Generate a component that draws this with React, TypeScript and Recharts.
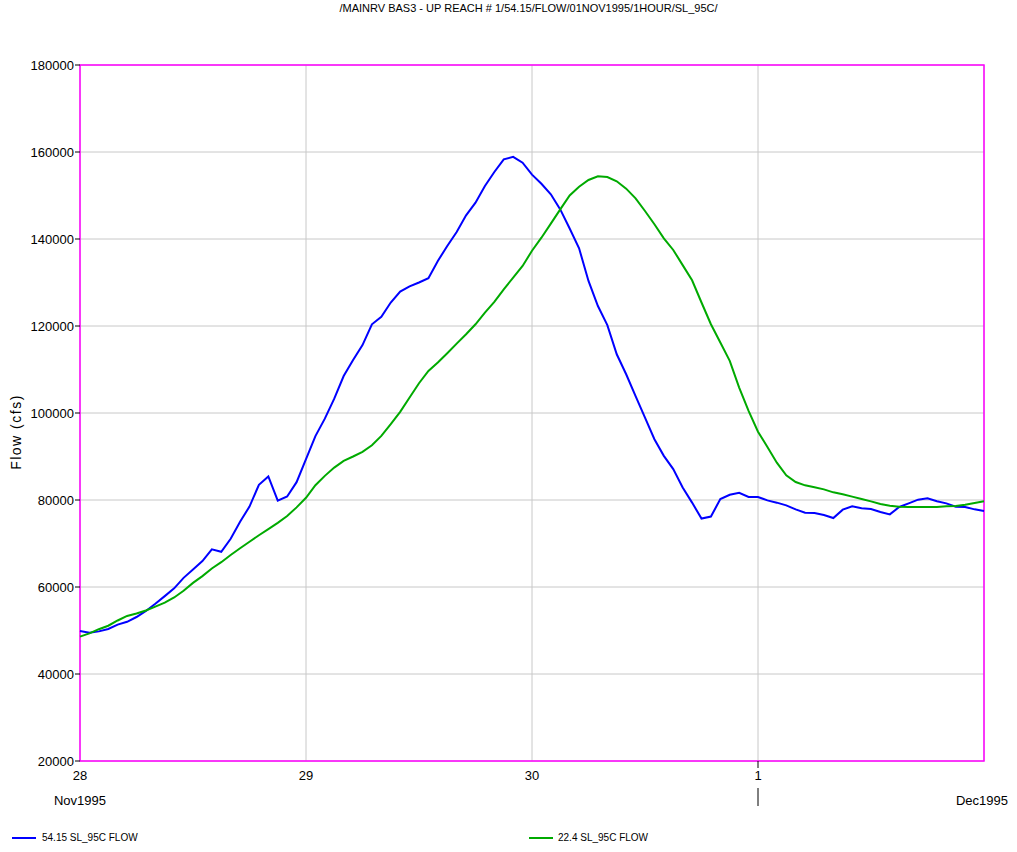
import React from 'react';
import { LineChart, Line, XAxis, YAxis, CartesianGrid, ReferenceArea } from 'recharts';

const TITLE = '/MAINRV BAS3 - UP REACH # 1/54.15/FLOW/01NOV1995/1HOUR/SL_95C/';
const SERIES_A_NAME = '54.15 SL_95C FLOW';
const SERIES_B_NAME = '22.4 SL_95C FLOW';
const Y_LABEL = 'Flow (cfs)';

// hourly flow values (cfs), starting 28Nov1995 00:00, ending 01Dec1995 24:00
const flowA = [
  49900, 49500, 49800, 50350, 51350, 52000, 53100, 54500, 56150, 57900, 59700, 62100,
  64000, 65950, 68650, 68100, 71100, 75000, 78500, 83500, 85400, 79850, 80800, 84100,
  89400, 94700, 98700, 103300, 108500, 112200, 115600, 120400, 122100, 125400, 127900, 129100,
  130000, 131000, 134950, 138400, 141600, 145450, 148350, 152200, 155400, 158300, 158900, 157550,
  154800, 152700, 150270, 146800, 142400, 137860, 130350, 124600, 120200, 113500, 108900, 103900,
  98950, 93970, 90150, 87100, 82860, 79400, 75740, 76200, 80200, 81200, 81650, 80700,
  80700, 79920, 79390, 78770, 77850, 77090, 77000, 76550, 75860, 77780, 78540, 78080,
  77930, 77240, 76700, 78400, 79230, 80080, 80380, 79700, 79230, 78470, 78400, 77850,
  77470,
];
const flowB = [
  48600, 49350, 50300, 51100, 52300, 53350, 53900, 54600, 55500, 56400, 57600, 59150,
  60950, 62500, 64250, 65700, 67350, 68900, 70400, 71900, 73300, 74750, 76300, 78300,
  80500, 83400, 85550, 87450, 89000, 90000, 91060, 92600, 94740, 97420, 100250, 103550,
  106840, 109670, 111600, 113730, 115950, 118100, 120400, 123080, 125530, 128440, 131120, 133800,
  137300, 140300, 143530, 146800, 150000, 152000, 153570, 154400, 154250, 153260, 151570, 149350,
  146440, 143400, 140150, 137480, 134000, 130500, 125400, 120400, 116200, 112000, 105850, 100500,
  95700, 92180, 88580, 85670, 84140, 83370, 82910, 82450, 81760, 81300, 80770, 80230,
  79690, 79080, 78700, 78470, 78390, 78390, 78390, 78390, 78540, 78620, 78930, 79310,
  79690,
];

const dayTicks = [0, 24, 48, 72, 96];
const dayLabels = ['28', '29', '30', '1', ''];
const yTicks = [20000, 40000, 60000, 80000, 100000, 120000, 140000, 160000, 180000];
const monthStart = 'Nov1995';
const monthEnd = 'Dec1995';

const data = flowA.map((a, i) => ({ hour: i, a, b: flowB[i] }));

const FONT = 'Liberation Sans, Arial, sans-serif';

const XTick = (props: any) => {
  const { x, y, payload } = props;
  const base = y - 8;
  const idx = dayTicks.indexOf(payload.value);
  const label = idx >= 0 ? dayLabels[idx] : '';
  return (
    <g>
      <text x={x} y={base + 19} textAnchor="middle" fontSize={13} fill="#000" fontFamily={FONT}>{label}</text>
      {payload.value === 0 && (
        <text x={x} y={base + 44} textAnchor="middle" fontSize={13} fill="#000" fontFamily={FONT}>{monthStart}</text>
      )}
      {payload.value === 96 && (
        <text x={x - 2} y={base + 44} textAnchor="middle" fontSize={13} fill="#000" fontFamily={FONT}>{monthEnd}</text>
      )}
      {payload.value === 72 && (
        <g>
          <line x1={x} x2={x} y1={base} y2={base + 7} stroke="#000" strokeWidth={1} />
          <line x1={x} x2={x} y1={base + 27} y2={base + 45} stroke="#000" strokeWidth={1} />
        </g>
      )}
    </g>
  );
};

const YLabel = () => (
  <text
    x={16}
    y={432}
    transform="rotate(-90, 16, 432)"
    textAnchor="middle"
    dominantBaseline="central"
    fontSize={14}
    fill="#000"
    fontFamily={FONT}
    letterSpacing={1.5}
  >
    {Y_LABEL}
  </text>
);

export default function App() {
  return (
    <div style={{ position: 'absolute', left: 0, top: 0, width: 1017, height: 852, background: '#fff', fontFamily: FONT }}>
      <div style={{ position: 'absolute', left: 0, top: 2, width: 1057, textAlign: 'center', fontSize: 11, color: '#000' }}>{TITLE}</div>
      <LineChart width={1017} height={852} data={data} margin={{ top: 65, right: 33, bottom: 0, left: 0 }}>
        <CartesianGrid stroke="#c8c8c8" strokeWidth={1} horizontalValues={yTicks} verticalValues={dayTicks} />
        <XAxis
          dataKey="hour"
          type="number"
          domain={[0, 96]}
          ticks={dayTicks}
          interval={0}
          height={91}
          axisLine={false}
          tickLine={false}
          tick={<XTick />}
        />
        <YAxis
          type="number"
          domain={[20000, 180000]}
          ticks={yTicks}
          interval={0}
          width={80}
          axisLine={false}
          tickLine={{ stroke: '#000' }}
          tickSize={5}
          tickMargin={1}
          tick={{ fontSize: 13, fill: '#000', fontFamily: FONT }}
          label={<YLabel />}
        />
        <Line type="linear" dataKey="a" stroke="#0000ff" strokeWidth={2} dot={false} isAnimationActive={false} />
        <Line type="linear" dataKey="b" stroke="#00aa00" strokeWidth={2} dot={false} isAnimationActive={false} />
        <ReferenceArea x1={0} x2={96} y1={20000} y2={180000} fill="none" fillOpacity={0} stroke="#ff00ff" strokeWidth={1.5} ifOverflow="visible" />
      </LineChart>
      <div style={{ position: 'absolute', left: 12, top: 832, display: 'flex', alignItems: 'center', fontSize: 10 }}>
        <div style={{ width: 24, height: 2, background: '#0000ff', marginRight: 6 }} />
        <span>{SERIES_A_NAME}</span>
      </div>
      <div style={{ position: 'absolute', left: 529, top: 832, display: 'flex', alignItems: 'center', fontSize: 10 }}>
        <div style={{ width: 24, height: 2, background: '#00aa00', marginRight: 5 }} />
        <span>{SERIES_B_NAME}</span>
      </div>
    </div>
  );
}
